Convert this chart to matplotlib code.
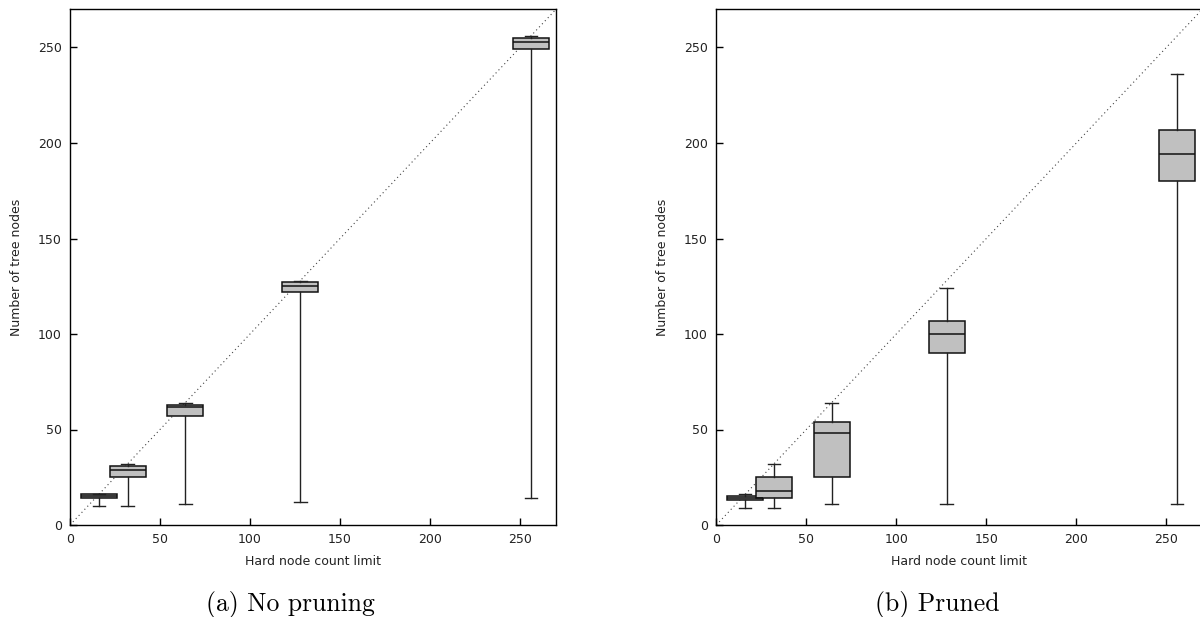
import matplotlib
matplotlib.use("Agg")
import matplotlib.pyplot as plt

# Data
limits = [16, 32, 64, 128, 256]
# (whislo, q1, med, q3, whishi)
nopruning_low = [10, 10, 11, 12, 14]
nopruning_q1 = [14, 25, 57, 122, 249]
nopruning_med = [15, 29, 62, 125, 253]
nopruning_q3 = [16, 31, 63, 127, 255]
nopruning_high = [16, 32, 64, 128, 256]

pruned_low = [9, 9, 11, 11, 11]
pruned_q1 = [13, 14, 25, 90, 180]
pruned_med = [14, 18, 48, 100, 194]
pruned_q3 = [15, 25, 54, 107, 207]
pruned_high = [16, 32, 64, 124, 236]

ticks = [0, 50, 100, 150, 200, 250]
xlabel = "Hard node count limit"
ylabel = "Number of tree nodes"
captions = ["(a) No pruning", "(b) Pruned"]

W, H = 1200, 617
fig = plt.figure(figsize=(W / 100, H / 100), dpi=100)
plt.rcParams['font.family'] = ['DejaVu Sans']

ax_l = fig.add_axes([70 / W, (H - 525) / H, 486 / W, (525 - 9.3) / H])
ax_r = fig.add_axes([716.3 / W, (H - 525) / H, 486 / W, (525 - 9.3) / H])


def draw(ax, lo, q1, med, q3, hi):
    stats = []
    for i in range(len(limits)):
        stats.append(dict(whislo=lo[i], q1=q1[i], med=med[i], q3=q3[i],
                          whishi=hi[i], fliers=[]))
    ax.plot([0, 270], [0, 270], linestyle=(0, (1.0, 2.8)), color='#444444',
            lw=0.8, zorder=1)
    ax.bxp(stats, positions=limits, widths=20, capwidths=7,
           patch_artist=True, showfliers=False, manage_ticks=False,
           boxprops=dict(facecolor='#c0c0c0', edgecolor='#111111', linewidth=1.1),
           medianprops=dict(color='#111111', linewidth=1.1),
           whiskerprops=dict(color='#222222', linewidth=1.0),
           capprops=dict(color='#222222', linewidth=1.0))
    ax.set_xlim(0, 270)
    ax.set_ylim(0, 270)
    ax.set_xticks(ticks)
    ax.set_yticks(ticks)
    ax.tick_params(direction='in', length=5, width=1, labelsize=9,
                   top=False, right=False, pad=6, labelcolor='#222222')
    for s in ax.spines.values():
        s.set_linewidth(1.0)
    ax.set_xlabel(xlabel, fontsize=9, labelpad=6, color='#222222')
    ax.set_ylabel(ylabel, fontsize=9, labelpad=11, color='#222222')


draw(ax_l, nopruning_low, nopruning_q1, nopruning_med, nopruning_q3, nopruning_high)
draw(ax_r, pruned_low, pruned_q1, pruned_med, pruned_q3, pruned_high)

fig.text(290 / W, 1 - 604 / H, captions[0], family='cmr10', fontsize=18.5,
         ha='center', va='center')
fig.text(937 / W, 1 - 604 / H, captions[1], family='cmr10', fontsize=18.5,
         ha='center', va='center')

fig.savefig("out.png", dpi=100)
